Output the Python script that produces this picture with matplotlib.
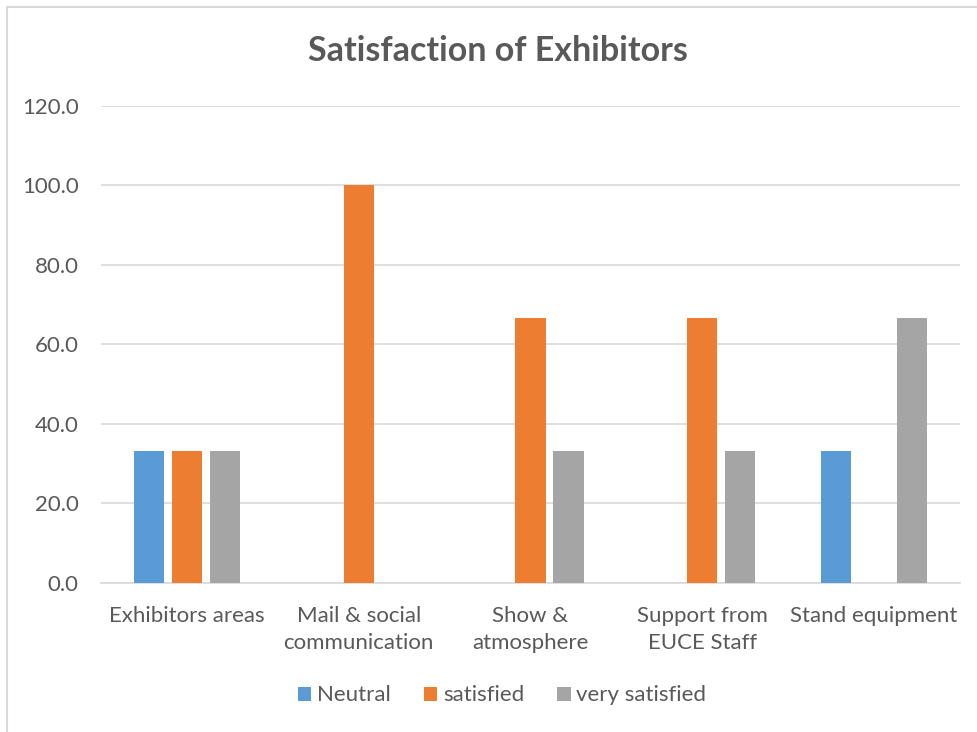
import matplotlib.pyplot as plt
import numpy as np
from matplotlib.patches import Rectangle

categories = ['Exhibitors areas', 'Mail & social\ncommunication', 'Show &\natmosphere',
              'Support from\nEUCE Staff', 'Stand equipment']
neutral = [33.3, 0, 0, 0, 33.3]
satisfied = [33.3, 100.0, 66.7, 66.7, 0]
very_satisfied = [33.3, 0, 33.3, 33.3, 66.7]

series_names = ['Neutral', 'satisfied', 'very satisfied']
colors = ['#5B9BD5', '#ED7D31', '#A5A5A5']
text_color = '#595959'

plt.rcParams['font.family'] = ['Lato', 'DejaVu Sans']

fig = plt.figure(figsize=(9.77, 7.32), dpi=100)
ax = fig.add_axes([0.1034, 0.2036, 0.8792, 0.6516])

# light frame round the chart
fig.patches.append(Rectangle((7 / 977, -0.05), 1.2, 1 - 7 / 732 + 0.05,
                             transform=fig.transFigure, fill=False,
                             edgecolor='#D9D9D9', linewidth=1.5))

x = np.arange(len(categories))
width = 0.175
step = 0.221
for i, (vals, name) in enumerate(zip([neutral, satisfied, very_satisfied], series_names)):
    ax.bar(x + (i - 1) * step, vals, width, color=colors[i], label=name, zorder=3)

ax.set_xlim(-0.5, len(categories) - 0.5)
ax.set_ylim(0, 120)
ax.set_yticks(np.arange(0, 121, 20))
ax.set_yticklabels([f'{v:.1f}' for v in np.arange(0, 121, 20)])
ax.set_xticks(x)
ax.set_xticklabels(categories, linespacing=1.45)

ax.grid(axis='y', color='#D9D9D9', linewidth=1.2, zorder=0)
for side in ['top', 'right', 'left']:
    ax.spines[side].set_visible(False)
ax.spines['bottom'].set_color('#D9D9D9')
ax.spines['bottom'].set_linewidth(1.2)
ax.tick_params(axis='both', length=0, labelsize=16, colors=text_color)
ax.tick_params(axis='x', pad=16.5)
ax.tick_params(axis='y', pad=16)

fig.text(0.51, 0.93, 'Satisfaction of Exhibitors', ha='center', va='center',
         fontsize=24.5, fontweight='bold', color=text_color)

leg = fig.legend(loc='center', bbox_to_anchor=(0.514, 0.05), ncol=3, frameon=False,
                 fontsize=16, handlelength=0.6, handleheight=0.6,
                 handletextpad=0.25, columnspacing=1.5)
for t in leg.get_texts():
    t.set_color(text_color)

fig.savefig('out.png', dpi=100)
